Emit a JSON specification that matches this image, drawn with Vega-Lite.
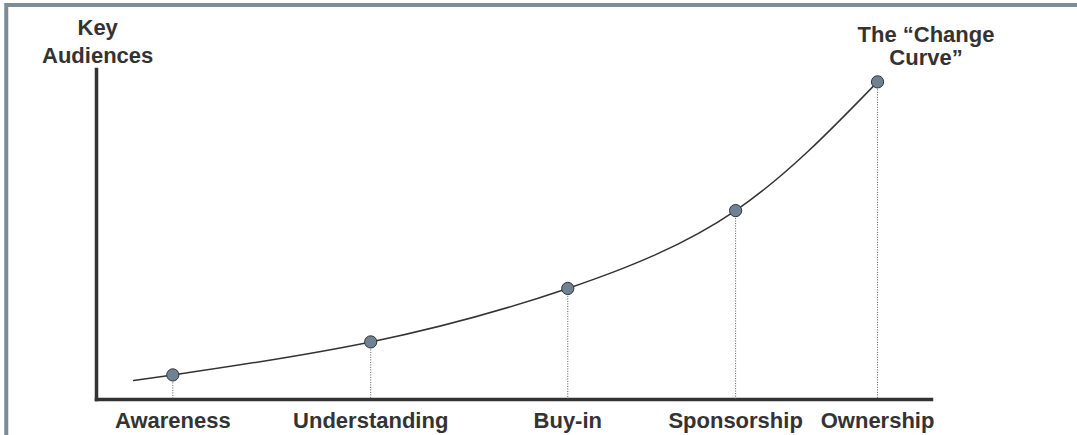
{
  "$schema": "https://vega.github.io/schema/vega-lite/v6.json",
  "width": 835,
  "height": 330,
  "autosize": {"type": "none"},
  "padding": {"left": 96, "top": 69, "right": 146, "bottom": 36},
  "background": "white",
  "config": {"view": {"stroke": null}},
  "datasets": {
    "stages": [
      {"stage": "Awareness", "x": 9.2, "y": 7.3},
      {"stage": "Understanding", "x": 32.9, "y": 17.3},
      {"stage": "Buy-in", "x": 56.5, "y": 33.5},
      {"stage": "Sponsorship", "x": 76.6, "y": 57.1},
      {"stage": "Ownership", "x": 93.6, "y": 96.1}
    ],
    "curve": [
      {"x": 4.55, "y": 5.6},
      {"x": 9.2, "y": 7.3},
      {"x": 32.9, "y": 17.3},
      {"x": 56.5, "y": 33.5},
      {"x": 76.6, "y": 57.1},
      {"x": 93.6, "y": 96.1}
    ],
    "notes": [
      {"label": "Key\nAudiences", "x": 0.2, "y": 110.3, "kind": "axis"},
      {"label": "The “Change\nCurve”", "x": 99.4, "y": 108.2, "kind": "curve"}
    ],
    "frame": [
      {"x": -10.75, "x2": 130, "y": 119.4, "y2": 119.4},
      {"x": -10.75, "x2": -10.75, "y": 120, "y2": -20}
    ]
  },
  "layer": [
    {
      "data": {"name": "frame"},
      "mark": {"type": "rule", "color": "#7d8c99", "strokeWidth": 4, "clip": false},
      "encoding": {
        "x": {"field": "x", "type": "quantitative", "scale": {"domain": [0, 100], "nice": false, "zero": false},
          "axis": {"domain": true, "domainColor": "#333333", "domainWidth": 3.5, "domainCap": "square", "ticks": false, "labels": false, "grid": false, "title": null}},
        "x2": {"field": "x2"},
        "y": {"field": "y", "type": "quantitative", "scale": {"domain": [0, 100], "nice": false, "zero": false},
          "axis": {"domain": true, "domainColor": "#333333", "domainWidth": 3.5, "domainCap": "square", "ticks": false, "labels": false, "grid": false, "title": null}},
        "y2": {"field": "y2"}
      }
    },
    {
      "data": {"name": "stages"},
      "mark": {"type": "rule", "color": "#555555", "strokeWidth": 1, "strokeDash": [1, 1.5]},
      "encoding": {
        "x": {"field": "x", "type": "quantitative"},
        "y": {"field": "y", "type": "quantitative"},
        "y2": {"datum": 0}
      }
    },
    {
      "data": {"name": "curve"},
      "mark": {"type": "line", "interpolate": "natural", "color": "#333333", "strokeWidth": 1.5},
      "encoding": {
        "x": {"field": "x", "type": "quantitative"},
        "y": {"field": "y", "type": "quantitative"}
      }
    },
    {
      "data": {"name": "stages"},
      "mark": {"type": "point", "shape": "circle", "filled": true, "size": 150, "color": "#6f8293", "stroke": "#333333", "strokeWidth": 1, "opacity": 1},
      "encoding": {
        "x": {"field": "x", "type": "quantitative"},
        "y": {"field": "y", "type": "quantitative"}
      }
    },
    {
      "data": {"name": "stages"},
      "mark": {"type": "text", "font": "Liberation Sans", "fontWeight": "bold", "fontSize": 22, "color": "#333333", "align": "center", "baseline": "alphabetic", "dy": 29, "clip": false},
      "encoding": {
        "x": {"field": "x", "type": "quantitative"},
        "y": {"datum": 0, "type": "quantitative"},
        "text": {"field": "stage"}
      }
    },
    {
      "data": {"name": "notes"},
      "transform": [{"filter": "datum.kind == 'axis'"}],
      "mark": {"type": "text", "font": "Liberation Sans", "fontWeight": "bold", "fontSize": 22, "color": "#333333", "align": "center", "baseline": "alphabetic", "lineBreak": "\n", "lineHeight": 27.5, "clip": false},
      "encoding": {
        "x": {"field": "x", "type": "quantitative"},
        "y": {"field": "y", "type": "quantitative"},
        "text": {"field": "label"}
      }
    },
    {
      "data": {"name": "notes"},
      "transform": [{"filter": "datum.kind == 'curve'"}],
      "mark": {"type": "text", "font": "Liberation Sans", "fontWeight": "bold", "fontSize": 22, "color": "#333333", "align": "center", "baseline": "alphabetic", "lineBreak": "\n", "lineHeight": 23, "clip": false},
      "encoding": {
        "x": {"field": "x", "type": "quantitative"},
        "y": {"field": "y", "type": "quantitative"},
        "text": {"field": "label"}
      }
    }
  ]
}
